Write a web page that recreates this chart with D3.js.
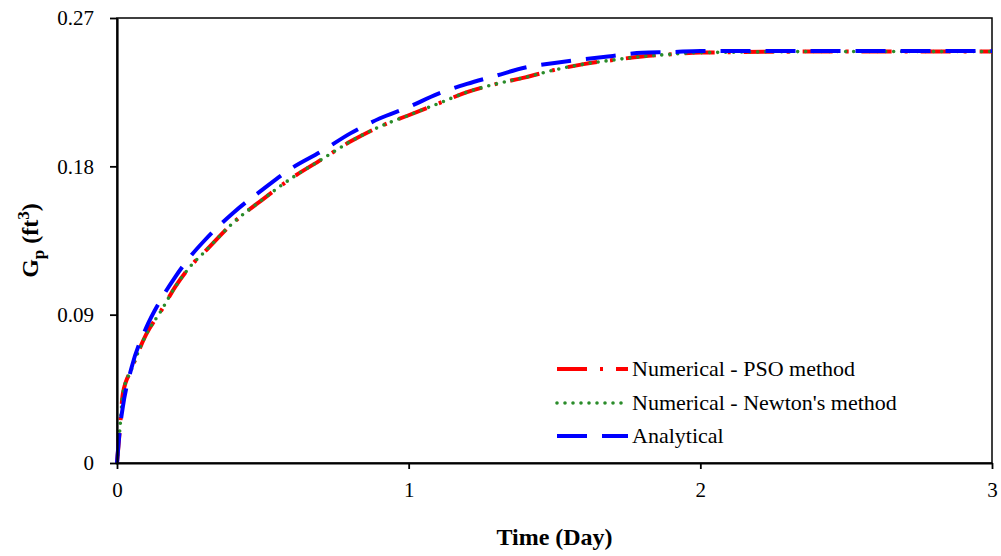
<!DOCTYPE html>
<html><head><meta charset="utf-8">
<script src="https://cdn.jsdelivr.net/npm/d3@7"></script>
</head>
<body style="margin:0;background:#fff"><svg id="chart" width="1001" height="556"></svg>
<script>
const timeDays = [0,0.01,0.02,0.05,0.1,0.15,0.2,0.25,0.3,0.4,0.5,0.6,0.7,0.8,0.9,1.0,1.1,1.2,1.3,1.4,1.5,1.6,1.7,1.8,1.9,2.0,2.5,3.0];
const psoValues = [0,0.021,0.042,0.057,0.078,0.092,0.107,0.119,0.128,0.146,0.160,0.173,0.184,0.195,0.204,0.211,0.218,0.225,0.230,0.234,0.2385,0.242,0.2445,0.2466,0.248,0.249,0.2497,0.2497];
const newtonValues = [0,0.021,0.042,0.057,0.078,0.092,0.107,0.119,0.128,0.146,0.160,0.173,0.184,0.195,0.204,0.211,0.218,0.225,0.230,0.234,0.2385,0.242,0.2445,0.2466,0.248,0.249,0.2497,0.2497];
const analyticalValues = [0,0.021,0.034,0.058,0.082,0.099,0.113,0.125,0.135,0.152,0.166,0.179,0.189,0.200,0.209,0.216,0.224,0.230,0.235,0.240,0.2427,0.245,0.247,0.2489,0.2493,0.250,0.250,0.250];
const xTicks = [0,1,2,3];
const yTicks = [0,0.09,0.18,0.27];
const seriesNames = ["Numerical - PSO method","Numerical - Newton's method","Analytical"];

const serifFont = "'Liberation Serif'";
const svg = d3.select("#chart");
const L=117,R=992,T=18,B=463;
const x = d3.scaleLinear().domain([0,3]).range([L,R]);
const y = d3.scaleLinear().domain([0,0.27]).range([B,T]);

const styles = [
  {color:"#ff0000", dash:"30 13 3 13", width:4, cap:"butt"},
  {color:"#2a8c2a", dash:"0 8", width:3.6, cap:"round"},
  {color:"#0000ff", dash:"30 15", width:4, cap:"butt"}
];
const seriesVals = [psoValues,newtonValues,analyticalValues];
const line = d3.line().x(d=>x(d[0])).y(d=>y(d[1])).curve(d3.curveMonotoneX);

svg.append("rect").attr("x",L).attr("y",T).attr("width",R-L).attr("height",B-T)
  .attr("fill","none").attr("stroke","#000").attr("stroke-width",1.5);

seriesVals.forEach((vals,i)=>{
  const s=styles[i];
  svg.append("path").datum(timeDays.map((t,j)=>[t,vals[j]]))
    .attr("d",line).attr("fill","none").attr("stroke",s.color)
    .attr("stroke-width",s.width).attr("stroke-dasharray",s.dash)
    .attr("stroke-linecap",s.cap).attr("stroke-linejoin","round");
});

const xa = svg.append("g").attr("transform",`translate(0,${B})`)
  .call(d3.axisBottom(x).tickValues(xTicks).tickFormat(d3.format("d")).tickSize(6).tickSizeOuter(0).tickPadding(13));
const ya = svg.append("g").attr("transform",`translate(${L},0)`)
  .call(d3.axisLeft(y).tickValues(yTicks).tickFormat(d=>d===0?"0":d3.format(".2f")(d)).tickSize(7).tickSizeOuter(0).tickPadding(16));
[xa,ya].forEach(a=>{
  a.attr("font-family","Liberation Serif").attr("font-size",21);
  a.select(".domain").attr("stroke","#000").attr("stroke-width",2.2);
  a.selectAll(".tick line").attr("stroke","#000").attr("stroke-width",1.8);
  a.selectAll("text").style("font-family",serifFont).style("font-size","21px").attr("fill","#000");
});
xa.selectAll("text").attr("dy","0.71em");

svg.append("text").attr("x",(L+R)/2).attr("y",545).attr("text-anchor","middle")
  .style("font-family",serifFont).style("font-size","24px").style("font-weight","bold").text("Time (Day)");
const yt = svg.append("text").attr("transform",`translate(38,${(T+B)/2}) rotate(-90)`)
  .attr("text-anchor","middle").style("font-family",serifFont).style("font-size","24px").style("font-weight","bold");
yt.append("tspan").text("G");
yt.append("tspan").style("font-size","17px").attr("dy",6).text("p");
yt.append("tspan").attr("dy",-6).text(" (ft");
yt.append("tspan").style("font-size","17px").attr("dy",-9).text("3");
yt.append("tspan").attr("dy",9).text(")");

const ly=[369,403,436];
seriesNames.forEach((n,i)=>{
  const s=styles[i];
  svg.append("line").attr("x1",557).attr("x2",628).attr("y1",ly[i]).attr("y2",ly[i])
    .attr("stroke",s.color).attr("stroke-width",s.width).attr("stroke-dasharray",s.dash).attr("stroke-linecap",s.cap);
  svg.append("text").attr("x",632).attr("y",ly[i]+7).style("font-family",serifFont).style("font-size","22px").text(n);
});
</script></body></html>
